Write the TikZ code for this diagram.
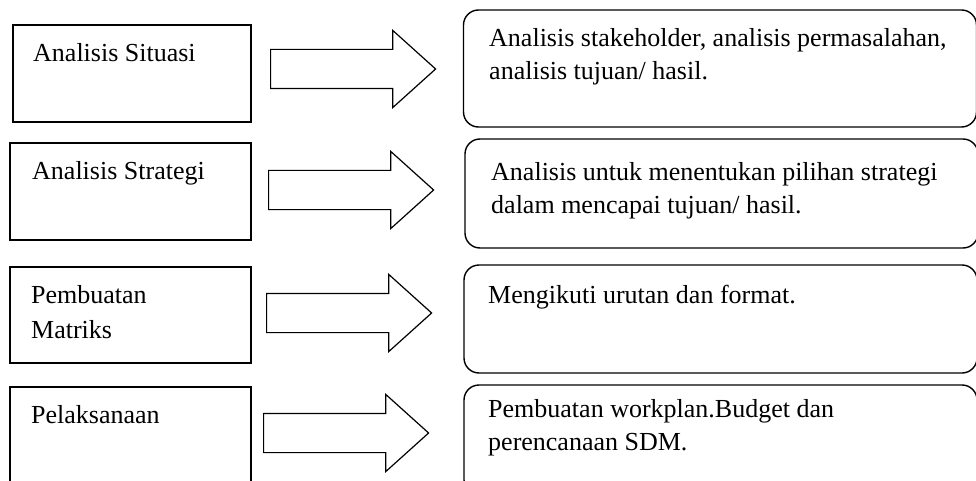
\documentclass[tikz,border=0pt]{standalone}
\usepackage{fontspec}
\setmainfont{Liberation Serif}
\usetikzlibrary{positioning,shapes.arrows,calc}

\begin{document}
\begin{tikzpicture}[x=1pt,y=-1pt,
  stepbox/.style={rectangle,draw,line width=1.4pt,minimum width=241pt,minimum height=97pt,inner sep=0pt},
  descbox/.style={rectangle,draw,line width=1.4pt,rounded corners=15pt,minimum width=513pt,minimum height=#1,inner sep=0pt},
  bigarrow/.style={single arrow,draw,line width=1.2pt,inner sep=0pt,minimum height=165pt,text height=38pt,text depth=0pt,
    single arrow head extend=19pt,single arrow tip angle=84,single arrow head indent=0pt,anchor=tail},
  lab/.style={anchor=base west,align=left,inner sep=0pt,font=\fontsize{26}{33}\selectfont},
]
\useasboundingbox (0,0) rectangle (976,481);
\clip (0,0) rectangle (976,481);

% === ROW 1: Analisis Situasi ===
\node[stepbox,minimum width=238pt] (sit) at (132,73.5) {};
\node[lab] (sitlab) at (33,62) {Analisis Situasi};
\node[bigarrow] (sitarr) at (270,69) {};
\node[descbox=117pt] (sitdesc) at (720,68.5) {};
\node[lab] (sitdlab) at (489,80) {Analisis stakeholder, analisis permasalahan,\\analisis tujuan/ hasil.};

% === ROW 2: Analisis Strategi ===
\node[stepbox] (str) at (130.5,191.5) {};
\node[lab] (strlab) at (32,179) {Analisis Strategi};
\node[bigarrow] (strarr) at (268,190) {};
\node[descbox=109pt] (strdesc) at (721.5,193.5) {};
\node[lab] (strdlab) at (491,213) {Analisis untuk menentukan pilihan strategi\\dalam mencapai tujuan/ hasil.};

% === ROW 3: Pembuatan Matriks ===
\node[stepbox,minimum height=96pt] (mat) at (130.5,315) {};
\node[lab,font=\fontsize{26}{35}\selectfont] (matlab) at (31,338) {Pembuatan\\Matriks};
\node[bigarrow] (matarr) at (266,313) {};
\node[descbox=108pt] (matdesc) at (720.5,319) {};
\node[lab] (matdlab) at (488,303) {Mengikuti urutan dan format.};

% === ROW 4: Pelaksanaan ===
\node[stepbox] (pel) at (130.5,435.5) {};
\node[lab] (pellab) at (31,423) {Pelaksanaan};
\node[bigarrow] (pelarr) at (263,433) {};
\node[descbox=110pt] (peldesc) at (720.5,440) {};
\node[lab] (peldlab) at (488,450) {Pembuatan workplan.Budget dan\\perencanaan SDM.};

\end{tikzpicture}
\end{document}
